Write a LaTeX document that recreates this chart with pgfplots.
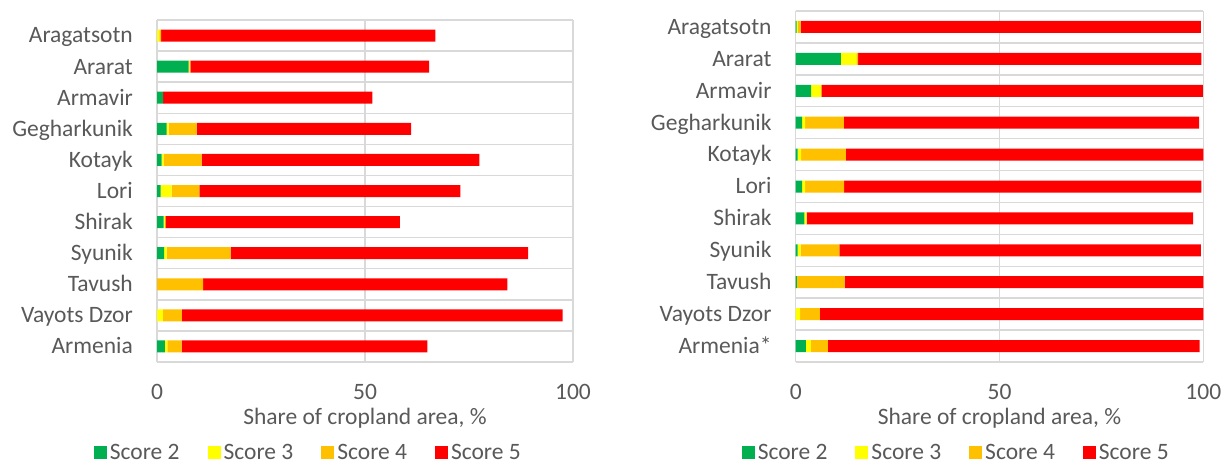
\documentclass[border=0pt]{standalone}
\usepackage{fontspec}
\setmainfont{Carlito}
\usepackage{pgfplots}
\usepackage{pgfplotstable}
\pgfplotsset{compat=1.18}
\definecolor{sgreen}{HTML}{00B050}
\definecolor{syellow}{HTML}{FFFF00}
\definecolor{sorange}{HTML}{FFC000}
\definecolor{sred}{HTML}{FF0000}
\definecolor{gridgray}{HTML}{D9D9D9}
\definecolor{txtgray}{HTML}{595959}

% idx: 10 = top row (Aragatsotn), 0 = bottom row (Armenia)
\pgfplotstableread{
idx s2 s3 s4 s5
10 0 0.6 0.4 65.9
9 7.6 0.2 0.2 57.4
8 1.5 0 0 50.3
7 2.3 0.5 6.7 51.6
6 1.1 0.5 9.1 66.8
5 0.9 2.6 6.7 62.7
4 1.6 0.4 0 56.4
3 1.7 0.6 15.4 71.5
2 0 0 11.1 73.1
1 0 1.4 4.6 91.5
0 1.9 0.6 3.4 59.1
}\lefttab

\pgfplotstableread{
idx s2 s3 s4 s5
10 0.25 0.3 0.65 98.2
9 11.1 3.8 0.4 84.2
8 3.8 2.5 0 93.6
7 1.6 0.7 9.5 87.2
6 0.5 0.8 11.0 87.7
5 1.6 0.7 9.6 87.6
4 2.1 0.6 0 94.8
3 0.5 0.7 9.5 88.7
2 0.3 0 11.7 88.0
1 0 1.1 4.8 94.1
0 2.5 1.2 4.2 91.2
}\righttab

\newcommand{\bigfont}{\fontsize{23.5}{27}\selectfont}

\pgfplotsset{
 panel/.style={
  scale only axis,
  xbar stacked, bar width=12pt,
  xmin=0, xmax=100, ymin=-0.5, ymax=10.5,
  xtick={0,50,100}, ytick={0,...,10},
  minor ytick={-0.5,0.5,...,10.5},
  xmajorgrids, yminorgrids,
  major grid style={draw=gridgray, line width=1.5pt},
  minor grid style={draw=gridgray, line width=1.5pt},
  axis line style={draw=none},
  major tick length=0pt, minor tick length=0pt,
  tick style={draw=none},
  /pgf/number format/assume math mode=true,
  tick label style={font=\bigfont, text=txtgray},
  yticklabel style={anchor=base east, inner sep=0pt, xshift=-24pt, yshift=-7.4pt},
  xticklabel style={anchor=base, inner sep=0pt, yshift=-37pt},
  xlabel={Share of cropland area, \%},
  xlabel style={font=\bigfont, text=txtgray, anchor=center},
  legend columns=4,
  legend image code/.code={\fill[##1,draw=none] (0pt,-6.5pt) rectangle (13pt,6.5pt);},
  legend style={draw=none, fill=none, font=\bigfont, text=txtgray, anchor=center,
    inner sep=0pt, column sep=0pt,
    nodes={inner sep=3pt},
    /tikz/every even column/.append style={column sep=25pt}},
 },
}

\begin{document}
\begin{tikzpicture}
\useasboundingbox (0,0) rectangle (1230pt,464pt);

\begin{axis}[panel,
  at={(157pt,102pt)}, anchor=south west,
  width=416pt, height=342pt,
  yticklabels={Armenia,Vayots Dzor,Tavush,Syunik,Shirak,Lori,Kotayk,Gegharkunik,Armavir,Ararat,Aragatsotn},
  xlabel style={at={(axis description cs:0.5,-0.164)}},
  legend style={at={(0.365,-0.266)}},
]
\addplot[fill=sgreen, draw=none] table[x=s2, y=idx] {\lefttab};
\addplot[fill=syellow, draw=none] table[x=s3, y=idx] {\lefttab};
\addplot[fill=sorange, draw=none] table[x=s4, y=idx] {\lefttab};
\addplot[fill=sred, draw=none] table[x=s5, y=idx] {\lefttab};
\legend{Score 2, Score 3, Score 4, Score 5}
\end{axis}

\begin{axis}[panel,
  at={(795.7pt,102pt)}, anchor=south west,
  width=407.6pt, height=351pt,
  yticklabels={Armenia*,Vayots Dzor,Tavush,Syunik,Shirak,Lori,Kotayk,Gegharkunik,Armavir,Ararat,Aragatsotn},
  xlabel style={at={(axis description cs:0.5,-0.160)}},
  legend style={at={(0.395,-0.259)}},
]
\addplot[fill=sgreen, draw=none] table[x=s2, y=idx] {\righttab};
\addplot[fill=syellow, draw=none] table[x=s3, y=idx] {\righttab};
\addplot[fill=sorange, draw=none] table[x=s4, y=idx] {\righttab};
\addplot[fill=sred, draw=none] table[x=s5, y=idx] {\righttab};
\legend{Score 2, Score 3, Score 4, Score 5}
\end{axis}
\end{tikzpicture}
\end{document}
